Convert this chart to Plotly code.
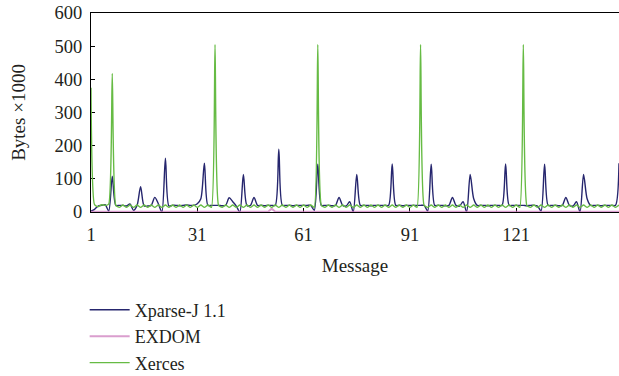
import plotly.graph_objects as go

messages = list(range(1, 151))

xparse_j = [
    3, 8, 18, 20, 22, 3, 108, 20, 20, 20,
    18, 24, 5, 20, 76, 18, 18, 20, 44, 25,
    0, 162, 18, 20, 20, 19, 20, 21, 20, 20,
    25, 40, 147, 20, 20, 20, 20, 19, 20, 43,
    31, 18, 0, 113, 20, 20, 44, 20, 20, 19,
    20, 20, 20, 189, 20, 20, 20, 19, 20, 20,
    20, 20, 20, 5, 144, 20, 20, 20, 19, 20,
    44, 20, 18, 31, 0, 113, 20, 20, 20, 19,
    20, 20, 20, 20, 20, 145, 20, 20, 19, 20,
    20, 20, 20, 20, 20, 3, 144, 20, 20, 20,
    19, 20, 44, 20, 18, 31, 0, 113, 40, 20,
    20, 20, 19, 20, 20, 20, 20, 145, 20, 20,
    20, 20, 20, 19, 20, 20, 18, 3, 144, 20,
    20, 20, 19, 20, 44, 20, 18, 31, 0, 113,
    40, 20, 20, 20, 19, 20, 20, 20, 20, 147,
]

exdom = [
    1, 1, 1, 1, 1, 1, 1, 1, 1, 1,
    1, 1, 1, 1, 1, 1, 1, 1, 1, 1,
    1, 1, 1, 1, 1, 1, 1, 1, 1, 1,
    1, 1, 1, 1, 1, 1, 1, 1, 1, 1,
    1, 1, 1, 1, 1, 1, 1, 1, 1, 1,
    1, 10, 1, 1, 1, 1, 1, 1, 1, 1,
    1, 1, 1, 1, 1, 1, 1, 1, 1, 1,
    1, 1, 1, 1, 1, 1, 1, 1, 1, 1,
    1, 1, 1, 1, 1, 1, 1, 1, 1, 1,
    1, 1, 1, 1, 1, 1, 1, 1, 1, 1,
    1, 1, 1, 1, 1, 1, 1, 1, 1, 1,
    1, 1, 1, 1, 1, 1, 1, 1, 1, 1,
    1, 1, 1, 1, 1, 1, 1, 1, 1, 1,
    1, 1, 1, 1, 1, 1, 1, 1, 1, 1,
    1, 1, 1, 1, 1, 1, 1, 1, 1, 1,
]

xerces = [
    375, 22, 16, 22, 20, 24, 418, 20, 14, 21,
    14, 21, 14, 21, 14, 21, 14, 21, 14, 21,
    14, 21, 14, 21, 14, 21, 14, 21, 14, 21,
    14, 21, 14, 21, 14, 505, 20, 14, 21, 14,
    21, 14, 21, 14, 21, 14, 21, 14, 21, 14,
    21, 14, 21, 14, 21, 14, 21, 14, 21, 14,
    21, 14, 21, 14, 505, 20, 14, 21, 14, 21,
    14, 21, 14, 21, 14, 21, 14, 21, 14, 21,
    14, 21, 14, 21, 14, 21, 14, 21, 14, 21,
    14, 21, 14, 505, 20, 14, 21, 14, 21, 14,
    21, 14, 21, 14, 21, 14, 21, 14, 21, 14,
    21, 14, 21, 14, 21, 14, 21, 14, 21, 14,
    21, 14, 505, 20, 14, 21, 14, 21, 14, 21,
    14, 21, 14, 21, 14, 21, 14, 21, 14, 21,
    14, 21, 14, 21, 14, 21, 14, 21, 14, 21,
]

x_ticks = [1, 31, 61, 91, 121]
y_ticks = [0, 100, 200, 300, 400, 500, 600]

FONT = "Liberation Serif"
TXT = "#231f20"

fig = go.Figure()
fig.add_trace(go.Scatter(x=messages, y=xparse_j, mode="lines", name="Xparse-J 1.1",
                         line=dict(color="#26266e", width=1.4, shape="spline", smoothing=0.8)))
fig.add_trace(go.Scatter(x=messages, y=exdom, mode="lines", name="EXDOM",
                         line=dict(color="rgb(205,125,190)", width=2), opacity=0.75))
fig.add_trace(go.Scatter(x=messages, y=xerces, mode="lines", name="Xerces",
                         line=dict(color="#66bb44", width=1.4, shape="spline", smoothing=0.5)))

fig.update_layout(
    width=619, height=376,
    margin=dict(l=91, r=0, t=13, b=164, autoexpand=False),
    paper_bgcolor="white", plot_bgcolor="white",
    font=dict(family=FONT, size=19, color=TXT),
    showlegend=True,
    legend=dict(x=-0.012, y=-0.40, xanchor="left", yanchor="top",
                bgcolor="rgba(0,0,0,0)", font=dict(family=FONT, size=18, color=TXT),
                tracegroupgap=0, itemwidth=40),
)
fig.update_xaxes(
    range=[1, 150], tickmode="array", tickvals=x_ticks,
    ticks="inside", ticklen=4, tickcolor="black", ticklabelstandoff=6,
    showline=True, linecolor="black", linewidth=1, mirror=True,
    showgrid=False, zeroline=False, layer="below traces",
    tickfont=dict(family=FONT, size=18.5, color=TXT),
    title=dict(text="Message", font=dict(family=FONT, size=19, color=TXT), standoff=14),
    automargin=False,
)
fig.update_yaxes(
    range=[0, 600], tickmode="array", tickvals=y_ticks,
    ticks="inside", ticklen=4, tickcolor="black", ticklabelstandoff=4,
    showline=True, linecolor="black", linewidth=1, mirror=False,
    showgrid=False, zeroline=False, layer="below traces",
    tickfont=dict(family=FONT, size=18.5, color=TXT),
    title=dict(text="Bytes ×1000", font=dict(family=FONT, size=19, color=TXT), standoff=23),
    automargin=False,
)

fig.write_html("out.html", config={"displayModeBar": False},
               post_script="document.body.style.margin='0';document.body.style.overflow='hidden';")
